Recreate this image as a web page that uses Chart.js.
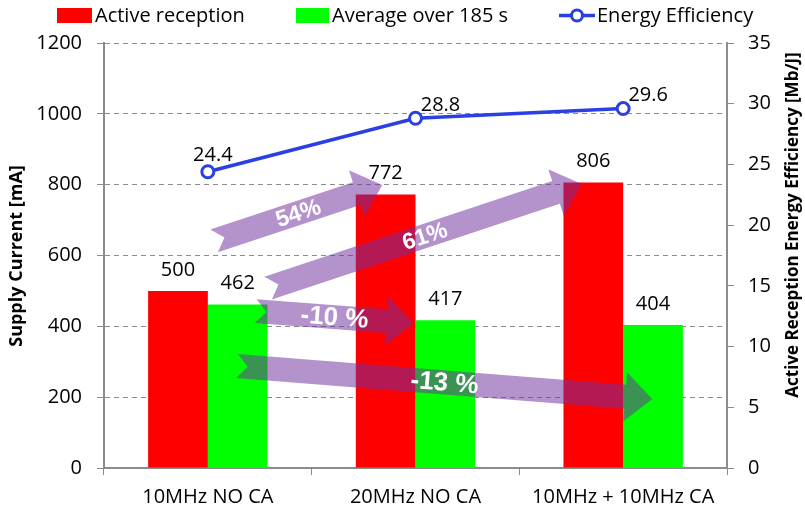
<!DOCTYPE html>
<html>
<head>
<meta charset="utf-8">
<script src="https://cdn.jsdelivr.net/npm/chart.js@4.4.1/dist/chart.umd.min.js"></script>
<style>
  html, body { margin: 0; padding: 0; background: #fff; }
</style>
</head>
<body>
<canvas id="supplyChart" width="805" height="513"></canvas>
<script>
const labels = ['10MHz NO CA', '20MHz NO CA', '10MHz + 10MHz CA'];
const activeReception = [500, 772, 806];
const averageOver185s = [462, 417, 404];
const energyEfficiency = [24.4, 28.8, 29.6];

// change arrows, ends given as [category index, mA]
const arrowFrom = [[0.03, 641], [0.29, 508], [0.23, 443], [0.14, 288]];
const arrowTo = [[0.84, 799], [1.80, 802], [0.99, 409], [2.14, 195]];
const arrowText = ['54%', '61%', '-10 %', '-13 %'];

const FONT = '"Open Sans", sans-serif';
const GRAY = '#8c8c8c';

// legend drawn by hand so it looks like the office one
const legendPlugin = {
    id: 'officeLegend',
    afterDraw(chart) {
        const ctx = chart.ctx;
        const ds = chart.data.datasets;
        ctx.save();
        ctx.font = '20px ' + FONT;
        ctx.textBaseline = 'middle';
        // bars
        ctx.fillStyle = ds[1].backgroundColor;
        ctx.fillRect(57, 8, 35, 15);
        ctx.fillStyle = ds[2].backgroundColor;
        ctx.fillRect(296, 8, 33, 15);
        // line with marker
        ctx.strokeStyle = ds[0].borderColor;
        ctx.lineWidth = 3.5;
        ctx.beginPath();
        ctx.moveTo(559, 15.5);
        ctx.lineTo(595, 15.5);
        ctx.stroke();
        ctx.beginPath();
        ctx.arc(577, 15.5, 5.5, 0, Math.PI * 2);
        ctx.fillStyle = '#fff';
        ctx.fill();
        ctx.lineWidth = 3;
        ctx.stroke();
        ctx.fillStyle = '#000';
        ctx.fillText(ds[1].label, 95, 16);
        ctx.fillText(ds[2].label, 332, 16);
        ctx.fillText(ds[0].label, 597, 16);
        ctx.restore();
    }
};

const titlePlugin = {
    id: 'axisTitles',
    afterDraw(chart) {
        const ctx = chart.ctx;
        ctx.save();
        ctx.font = 'bold 18px ' + FONT;
        ctx.fillStyle = '#000';
        ctx.textAlign = 'center';
        ctx.textBaseline = 'middle';
        ctx.translate(17, 256);
        ctx.rotate(-Math.PI / 2);
        ctx.fillText('Supply Current [mA]', 0, 0);
        ctx.restore();
        ctx.save();
        ctx.font = 'bold 17px ' + FONT;
        ctx.fillStyle = '#000';
        ctx.textAlign = 'center';
        ctx.textBaseline = 'middle';
        ctx.translate(793, 225);
        ctx.rotate(-Math.PI / 2);
        ctx.fillText('Active Reception Energy Efficiency [Mb/J]', 0, 0);
        ctx.restore();
    }
};

const arrowPlugin = {
    id: 'changeArrows',
    afterDatasetsDraw(chart) {
        const ctx = chart.ctx;
        const x = chart.scales.x;
        const y = chart.scales.y;
        const hw = 12, hh = 24.5, hl = 27, nd = 11;
        ctx.save();
        for (let i = 0; i < arrowText.length; i++) {
            const tx = x.getPixelForValue(arrowFrom[i][0]);
            const ty = y.getPixelForValue(arrowFrom[i][1]);
            const px = x.getPixelForValue(arrowTo[i][0]);
            const py = y.getPixelForValue(arrowTo[i][1]);
            const len = Math.hypot(px - tx, py - ty);
            const ux = (px - tx) / len, uy = (py - ty) / len;
            const nx = -uy, ny = ux;
            const bx = px - ux * hl, by = py - uy * hl;
            ctx.beginPath();
            ctx.moveTo(tx + nx * hw, ty + ny * hw);
            ctx.lineTo(bx + nx * hw, by + ny * hw);
            ctx.lineTo(bx + nx * hh, by + ny * hh);
            ctx.lineTo(px, py);
            ctx.lineTo(bx - nx * hh, by - ny * hh);
            ctx.lineTo(bx - nx * hw, by - ny * hw);
            ctx.lineTo(tx - nx * hw, ty - ny * hw);
            ctx.lineTo(tx + ux * nd, ty + uy * nd);
            ctx.closePath();
            ctx.fillStyle = 'rgba(112, 48, 160, 0.52)';
            ctx.fill();

            // label on the arrow
            const size = uy < 0 ? 23 : 26;
            ctx.save();
            ctx.translate((tx + px) / 2, (ty + py) / 2);
            ctx.rotate(Math.atan2(uy, ux));
            ctx.font = 'bold ' + size + 'px "Liberation Sans", Arial, sans-serif';
            ctx.fillStyle = '#fff';
            ctx.textAlign = 'center';
            ctx.textBaseline = 'middle';
            ctx.fillText(arrowText[i], 0, 1);
            ctx.restore();
        }
        ctx.restore();
    }
};

const valuePlugin = {
    id: 'valueLabels',
    afterDatasetsDraw(chart) {
        const ctx = chart.ctx;
        ctx.save();
        ctx.font = '20px ' + FONT;
        ctx.fillStyle = '#000';
        ctx.textAlign = 'center';
        ctx.textBaseline = 'middle';
        [1, 2].forEach(function (d) {
            const meta = chart.getDatasetMeta(d);
            meta.data.forEach(function (bar, i) {
                ctx.fillText(chart.data.datasets[d].data[i], bar.x, bar.y - 21);
            });
        });
        const line = chart.getDatasetMeta(0);
        line.data.forEach(function (pt, i) {
            const dx = i === 0 ? 5 : 25;
            const dy = i === 0 ? -16 : -13;
            ctx.fillText(energyEfficiency[i].toFixed(1), pt.x + dx, pt.y + dy);
        });
        ctx.restore();
    }
};

const chartItem = document.getElementById('supplyChart');
const chart = new Chart(chartItem, {
    type: 'bar',
    data: {
        labels: labels,
        datasets: [{
            type: 'line',
            label: 'Energy Efficiency',
            data: energyEfficiency,
            yAxisID: 'y1',
            borderColor: '#2b40e4',
            borderWidth: 3.5,
            pointRadius: 6,
            pointBorderWidth: 3,
            pointBackgroundColor: '#fff',
            pointBorderColor: '#2b40e4',
            tension: 0,
            order: 0
        }, {
            label: 'Active reception',
            data: activeReception,
            backgroundColor: '#ff0000',
            yAxisID: 'y',
            order: 1
        }, {
            label: 'Average over 185 s',
            data: averageOver185s,
            backgroundColor: '#00ff00',
            yAxisID: 'y',
            order: 1
        }]
    },
    options: {
        responsive: false,
        animation: false,
        devicePixelRatio: 1,
        categoryPercentage: 0.575,
        barPercentage: 1.0,
        layout: {
            padding: { top: 43, left: 0, right: 0, bottom: 0 }
        },
        plugins: {
            legend: { display: false },
            tooltip: { enabled: false }
        },
        scales: {
            x: {
                grid: {
                    drawOnChartArea: false,
                    offset: true,
                    tickLength: 7,
                    color: GRAY
                },
                border: { color: GRAY, width: 2 },
                ticks: {
                    color: '#000',
                    padding: 10,
                    maxRotation: 0,
                    font: { family: FONT, size: 20 }
                },
                afterFit: function (scale) { scale.height = 45; }
            },
            y: {
                position: 'left',
                min: 0,
                max: 1200,
                ticks: {
                    stepSize: 200,
                    padding: 15,
                    color: '#000',
                    font: { family: FONT, size: 20 },
                    callback: function (value) { return String(value); }
                },
                grid: { color: GRAY, tickLength: 7, lineWidth: 1 },
                border: { color: GRAY, width: 2, dash: [5, 4] },
                afterFit: function (scale) { scale.width = 104; }
            },
            y1: {
                position: 'right',
                min: 0,
                max: 35,
                ticks: {
                    stepSize: 5,
                    padding: 14,
                    color: '#000',
                    font: { family: FONT, size: 20 }
                },
                grid: { drawOnChartArea: false, color: GRAY, tickLength: 7 },
                border: { color: GRAY, width: 2 },
                afterFit: function (scale) { scale.width = 78; }
            }
        }
    },
    plugins: [arrowPlugin, valuePlugin, legendPlugin, titlePlugin]
});
</script>
</body>
</html>
